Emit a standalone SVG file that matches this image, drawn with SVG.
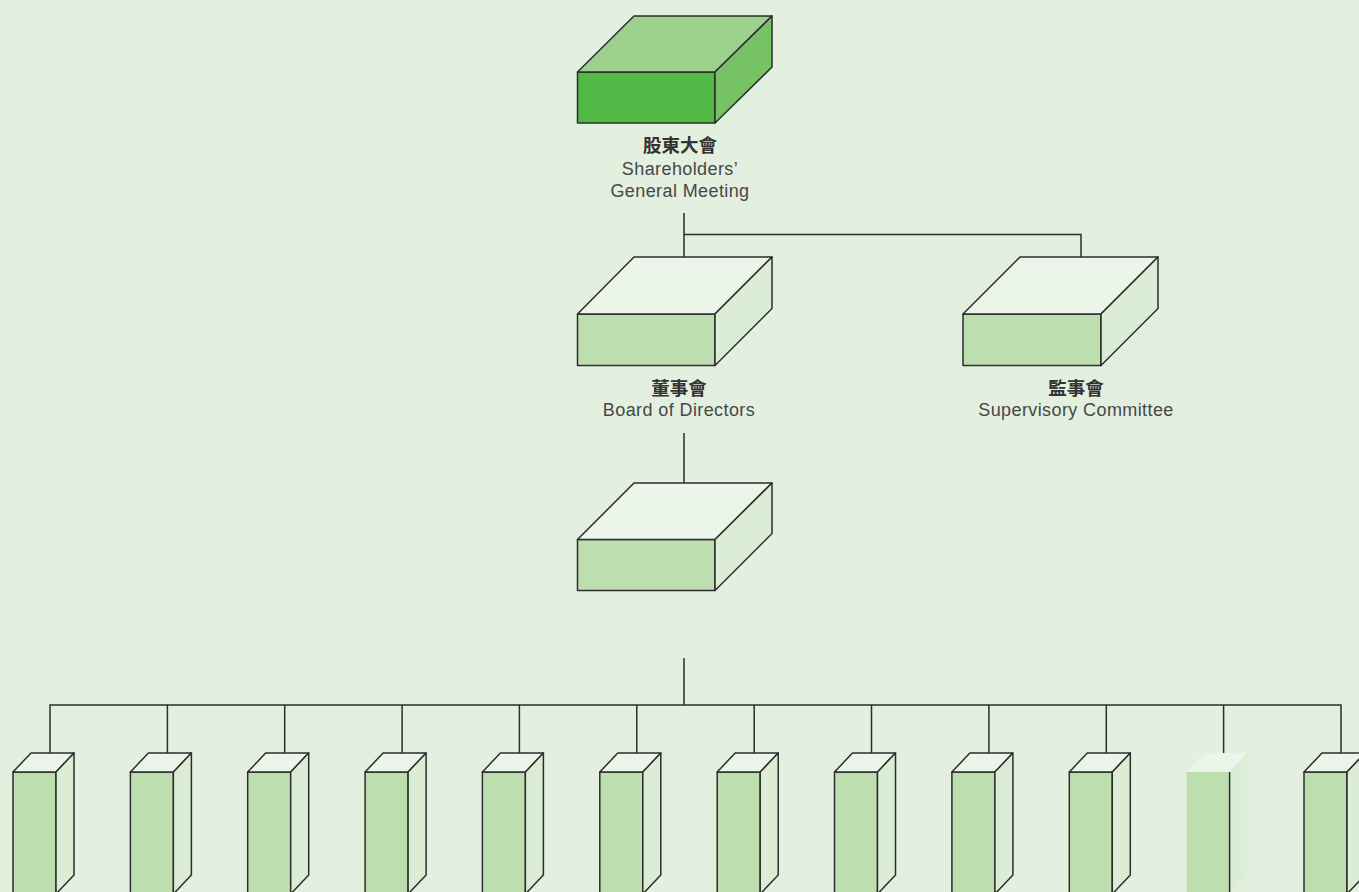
<svg xmlns="http://www.w3.org/2000/svg" width="1359" height="892" viewBox="0 0 1359 892">
<style>
.bg{fill:#e3efdf}
.ln{fill:none;stroke:#2d2d2d;stroke-width:1.5}
.bx{stroke:#2d2d2d;stroke-width:1.5;stroke-linejoin:round}
.fr{fill:#bddfb0}
.tp{fill:#ebf5e9}
.sd{fill:#dcedd6}
.gfr{fill:#52b947}
.gtp{fill:#9dd08c}
.gsd{fill:#77c265}
.zh{font-family:"Noto Sans CJK TC","Noto Sans CJK SC",sans-serif;font-weight:bold;font-size:18.5px;fill:#333;text-anchor:middle}
.en{font-family:"Liberation Sans",Arial,sans-serif;font-size:18px;fill:#474747;text-anchor:middle;letter-spacing:0.4px}
</style>
<defs>
<g id="small">
<polygon class="bx fr" points="-37,772 6,772 6,900 -37,900"/>
<polygon class="bx tp" points="-37,772 -19,753 24,753 6,772"/>
<polygon class="bx sd" points="6,772 24,753 24,875 6,894"/>
</g>
</defs>
<rect class="bg" x="0" y="0" width="1359" height="892"/>
<g id="connectors">
<path class="ln" d="M684,213 V257 M684,234.5 H1081 V257"/>
<path class="ln" d="M684,433 V483"/>
<path class="ln" d="M684,658 V705"/>
<path class="ln" d="M50,753 V705 H1341 V753"/>
<path class="ln" d="M167.4,705 V753 M284.7,705 V753 M402.1,705 V753 M519.4,705 V753 M636.8,705 V753 M754.2,705 V753 M871.5,705 V753 M988.9,705 V753 M1106.3,705 V753 M1223.6,705 V753"/>
</g>
<g id="node-shareholders">
<polygon class="bx gfr" points="577.5,72 715,72 715,123 577.5,123"/>
<polygon class="bx gtp" points="577.5,72 634,16 772,16 715,72"/>
<polygon class="bx gsd" points="715,72 772,16 772,67 715,123"/>
<text class="zh" x="680" y="152">股東大會</text>
<text class="en" x="680" y="174.5">Shareholders’</text>
<text class="en" x="680" y="196.5">General Meeting</text>
</g>
<g id="node-board">
<polygon class="bx fr" points="577.5,314 715,314 715,365.5 577.5,365.5"/>
<polygon class="bx tp" points="577.5,314 634,257 772,257 715,314"/>
<polygon class="bx sd" points="715,314 772,257 772,308.5 715,365.5"/>
<text class="zh" x="679" y="394.5">董事會</text>
<text class="en" x="679" y="415.5">Board of Directors</text>
</g>
<g id="node-supervisory">
<polygon class="bx fr" points="963,314 1101,314 1101,365.5 963,365.5"/>
<polygon class="bx tp" points="963,314 1020,257 1158,257 1101,314"/>
<polygon class="bx sd" points="1101,314 1158,257 1158,308.5 1101,365.5"/>
<text class="zh" x="1076" y="394.5">監事會</text>
<text class="en" x="1076" y="415.5">Supervisory Committee</text>
</g>
<g id="node-management">
<polygon class="bx fr" points="577.5,539.5 715,539.5 715,590.5 577.5,590.5"/>
<polygon class="bx tp" points="577.5,539.5 634,483 772,483 715,539.5"/>
<polygon class="bx sd" points="715,539.5 772,483 772,533.5 715,590.5"/>
</g>
<g id="node-d1"><use href="#small" x="50"/></g>
<g id="node-d2"><use href="#small" x="167.4"/></g>
<g id="node-d3"><use href="#small" x="284.7"/></g>
<g id="node-d4"><use href="#small" x="402.1"/></g>
<g id="node-d5"><use href="#small" x="519.4"/></g>
<g id="node-d6"><use href="#small" x="636.8"/></g>
<g id="node-d7"><use href="#small" x="754.2"/></g>
<g id="node-d8"><use href="#small" x="871.5"/></g>
<g id="node-d9"><use href="#small" x="988.9"/></g>
<g id="node-d10"><use href="#small" x="1106.3"/></g>
<g id="node-d11">
<polygon class="fr" points="1186.6,772 1229.6,772 1229.6,900 1186.6,900"/>
<polygon class="tp" points="1186.6,772 1204.6,753 1247.6,753 1229.6,772"/>
<polygon class="sd" points="1229.6,772 1247.6,753 1247.6,875 1229.6,894"/>
<path class="ln" d="M1229.6,772 V892"/>
</g>
<g id="node-d12"><use href="#small" x="1341"/></g>
</svg>
